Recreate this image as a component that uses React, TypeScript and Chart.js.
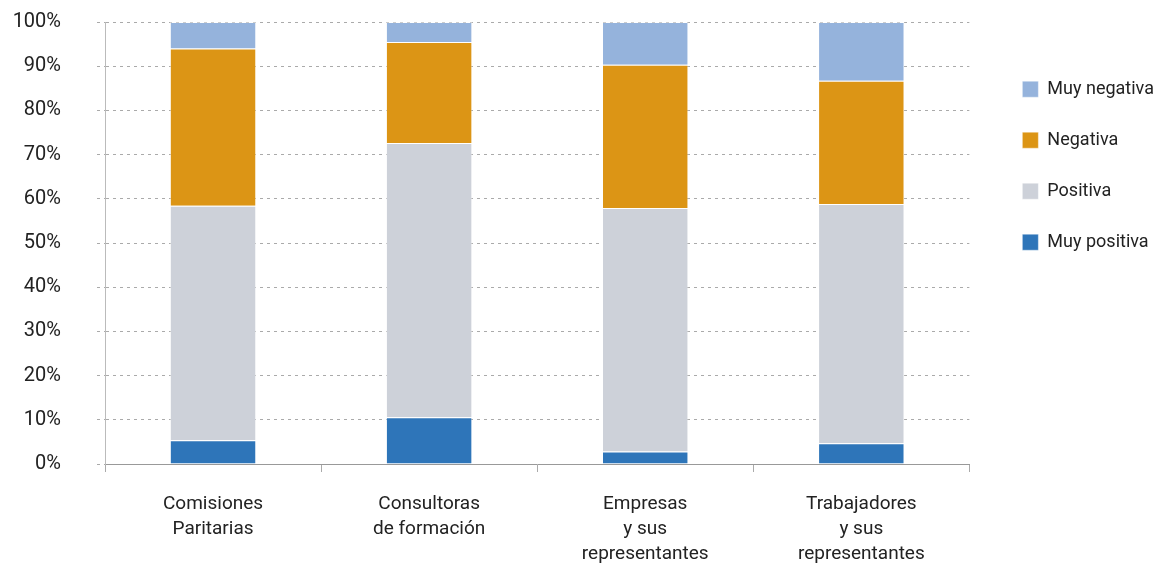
import React, { useEffect, useRef } from 'react';
import { Chart, registerables } from 'chart.js';

Chart.register(...registerables);

const categories: string[][] = [
  ['Comisiones', 'Paritarias'],
  ['Consultoras', 'de formación'],
  ['Empresas', 'y sus', 'representantes'],
  ['Trabajadores', 'y sus', 'representantes'],
];
const muyPositiva = [5.4, 10.6, 2.8, 4.7];
const positiva = [53.0, 62.0, 55.1, 54.1];
const negativa = [35.6, 22.9, 32.4, 27.9];
const muyNegativa = [6.0, 4.5, 9.7, 13.3];
const seriesLabels = ['Muy positiva', 'Positiva', 'Negativa', 'Muy negativa'];
const seriesColors = ['#2E75B9', '#CDD1D9', '#DC9515', '#95B3DC'];

const FONT = "Roboto, 'Liberation Sans', sans-serif";

export default function App() {
  const ref = useRef<HTMLCanvasElement | null>(null);
  useEffect(() => {
    if (!ref.current) return;
    const values = [muyPositiva, positiva, negativa, muyNegativa];
    const chart = new Chart(ref.current, {
      type: 'bar',
      data: {
        labels: categories,
        datasets: values.map((v, i) => ({
          label: seriesLabels[i],
          data: v,
          backgroundColor: seriesColors[i],
          borderColor: 'rgba(255,255,255,0.4)',
          borderWidth: 1,
          barPercentage: 0.4,
          categoryPercentage: 1,
          yAxisID: 'y',
        })),
      },
      options: {
        animation: false,
        responsive: true,
        maintainAspectRatio: false,
        layout: { padding: { top: 22, right: -10, bottom: 0, left: 0 } },
        plugins: {
          tooltip: { enabled: false },
          legend: {
            position: 'right',
            align: 'start',
            reverse: true,
            title: { display: true, text: ' ', font: { size: 1, family: FONT }, padding: { top: 24, bottom: 0 } },
            labels: {
              boxWidth: 16,
              boxHeight: 16,
              padding: 33,
              color: '#222',
              font: { family: FONT, size: 18 },
            },
          },
        },
        scales: {
          x: {
            stacked: true,
            grid: { display: true, offset: true, drawOnChartArea: false, drawTicks: true, tickLength: 8, color: '#aaa' },
            border: { display: true, color: '#999', width: 1 },
            ticks: { color: '#222', padding: 20, font: { family: FONT, size: 19, lineHeight: 1.32 }, maxRotation: 0, autoSkip: false },
            afterFit: (s: any) => { s.height = 102; s.paddingLeft = 0; s.paddingRight = 0; },
          },
          y: {
            stacked: true,
            min: 0,
            max: 100,
            grid: { color: '#aaa', tickLength: 8, drawTicks: true, tickBorderDash: [3, 4] },
            border: { display: true, color: '#bbb', dash: [3, 4] },
            ticks: { stepSize: 10, color: '#222', padding: 36, font: { family: FONT, size: 20 }, callback: (v: any) => v + '%' },
            afterFit: (s: any) => { s.width = 105; s.paddingTop = 0; s.paddingBottom = 0; },
          },
          spacer: {
            position: 'right',
            display: true,
            grid: { display: false },
            border: { display: false },
            ticks: { display: false },
            afterFit: (s: any) => { s.width = 20; s.paddingTop = 0; s.paddingBottom = 0; },
          },
        },
      } as any,
    });
    return () => chart.destroy();
  }, []);
  return (
    <div style={{ position: 'fixed', left: 0, top: 0, width: 1154, height: 566 }}>
      <canvas ref={ref} />
    </div>
  );
}
